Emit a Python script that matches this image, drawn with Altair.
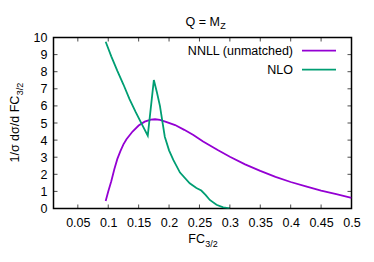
import altair as alt
import pandas as pd

# ---- data ----
nnll_x = [0.0958, 0.1, 0.105, 0.11, 0.115, 0.12, 0.125, 0.13, 0.14, 0.15, 0.16, 0.17,
          0.177, 0.185, 0.195, 0.21, 0.225, 0.24, 0.256, 0.28, 0.30, 0.325, 0.35,
          0.375, 0.40, 0.425, 0.45, 0.475, 0.50]
nnll_y = [0.44, 1.0, 1.6, 2.3, 2.9, 3.35, 3.75, 4.05, 4.5, 4.85, 5.08, 5.2,
          5.22, 5.18, 5.07, 4.88, 4.6, 4.3, 3.92, 3.42, 3.03, 2.58, 2.2,
          1.85, 1.55, 1.29, 1.05, 0.84, 0.62]

nlo_x = [0.0958, 0.105, 0.115, 0.125, 0.135, 0.145, 0.155, 0.165, 0.175, 0.18, 0.185,
         0.193, 0.20, 0.207, 0.218, 0.234, 0.245, 0.253, 0.26, 0.267, 0.278, 0.289, 0.30]
nlo_y = [9.75, 8.9, 8.05, 7.25, 6.4, 5.65, 4.95, 4.26, 7.51, 6.8, 6.0,
         4.2, 3.4, 2.84, 2.1, 1.47, 1.2, 1.05, 0.8, 0.5, 0.22, 0.07, 0.0]

series_names = ["NNLL (unmatched)", "NLO"]
series_colors = ["#9400D3", "#009E73"]

x_ticks = [0.05, 0.1, 0.15, 0.2, 0.25, 0.3, 0.35, 0.4, 0.45, 0.5]
y_ticks = [0, 1, 2, 3, 4, 5, 6, 7, 8, 9, 10]
x_domain = [0.01, 0.5]
y_domain = [0, 10]

title_main, title_sub = "Q = M", "Z"
xlab_main, xlab_sub = "FC", "3/2"
ylab_main, ylab_sub = "1/σ dσ/d FC", "3/2"

FONT = "Liberation Sans"
FS = 12.5
SUB = 9

df = pd.concat([
    pd.DataFrame({"x": nnll_x, "y": nnll_y, "series": series_names[0]}),
    pd.DataFrame({"x": nlo_x, "y": nlo_y, "series": series_names[1]}),
])

xscale = alt.Scale(domain=x_domain, nice=False, zero=False)
yscale = alt.Scale(domain=y_domain, nice=False, zero=False)

xaxis = alt.Axis(values=x_ticks, format=".2~f", title=None, ticks=False, tickSize=0,
                 domain=False, grid=False, labelPadding=8, labelFont=FONT,
                 labelFontSize=FS, labelColor="black", labelFlush=False,
                 labelOverlap=False, labelBound=False)
yaxis = alt.Axis(values=y_ticks, format="d", title=None, ticks=False, tickSize=0,
                 domain=False, grid=False, labelPadding=6.5, labelFont=FONT,
                 labelFontSize=FS, labelColor="black", labelFlush=False,
                 labelOverlap=False, labelBound=False)

lines = alt.Chart(df).mark_line(strokeWidth=1.8, clip=True).encode(
    x=alt.X("x:Q", scale=xscale, axis=xaxis),
    y=alt.Y("y:Q", scale=yscale, axis=yaxis),
    color=alt.Color("series:N", scale=alt.Scale(domain=series_names, range=series_colors),
                    legend=None),
    detail="series:N",
)

# inward ticks (gnuplot style, mirrored)
xt = pd.DataFrame({"v": x_ticks[:-1]})
yt = pd.DataFrame({"v": y_ticks[1:-1]})
tick_bottom = alt.Chart(xt).mark_tick(orient="vertical", size=4, thickness=1, color="black",
                                      yOffset=-2).encode(
    x=alt.X("v:Q", scale=xscale, axis=xaxis), y=alt.Y(datum=y_domain[0], scale=yscale, axis=yaxis))
tick_top = alt.Chart(xt).mark_tick(orient="vertical", size=4, thickness=1, color="black",
                                   yOffset=2).encode(
    x=alt.X("v:Q", scale=xscale, axis=xaxis), y=alt.Y(datum=y_domain[1], scale=yscale, axis=yaxis))
tick_left = alt.Chart(yt).mark_tick(orient="horizontal", size=4, thickness=1, color="black",
                                    xOffset=2).encode(
    y=alt.Y("v:Q", scale=yscale, axis=yaxis), x=alt.X(datum=x_domain[0], scale=xscale, axis=xaxis))
tick_right = alt.Chart(yt).mark_tick(orient="horizontal", size=4, thickness=1, color="black",
                                     xOffset=-2).encode(
    y=alt.Y("v:Q", scale=yscale, axis=yaxis), x=alt.X(datum=x_domain[1], scale=xscale, axis=xaxis))


def txt(s, x, y, size=FS, align="left", angle=0, baseline="alphabetic", color="black"):
    return alt.Chart(pd.DataFrame({"t": [s]})).mark_text(
        font=FONT, fontSize=size, align=align, baseline=baseline, angle=angle, color=color
    ).encode(text="t:N", x=alt.value(x), y=alt.value(y))


layers = [lines, tick_bottom, tick_top, tick_left, tick_right]

# title Q = M_Z
layers.append(txt(title_main, 166.5, -11.5, align="right"))
layers.append(txt(title_sub, 166.8, -9.0, size=SUB))
# x axis title FC_{3/2}
layers.append(txt(xlab_main, 151.5, 205.8, align="right"))
layers.append(txt(xlab_sub, 151.8, 209.8, size=SUB))
# y axis title (rotated)
layers.append(txt(ylab_main, -34.5, 58.2, align="right", angle=270))
layers.append(txt(ylab_sub, -31.0, 57.8, size=SUB, angle=270))

# legend (gnuplot style: label then line sample)
leg_y = [13.2, 32.2]
for name, col, yy in zip(series_names, series_colors, leg_y):
    layers.append(txt(name, 239.5, yy, align="right", baseline="middle"))
    layers.append(
        alt.Chart(pd.DataFrame({"s": [name]})).mark_rule(color=col, strokeWidth=1.8).encode(
            x=alt.value(248.5), x2=alt.value(282.5), y=alt.value(yy))
    )

chart = alt.layer(*layers).properties(
    width=298, height=171,
    autosize=alt.AutoSizeParams(type="none"),
    padding={"left": 45.5, "top": 29.5, "right": 14.5, "bottom": 45.5},
).configure_view(stroke="black", strokeWidth=1.5)

chart.save("out.html", embed_options={"renderer": "svg", "actions": False})
